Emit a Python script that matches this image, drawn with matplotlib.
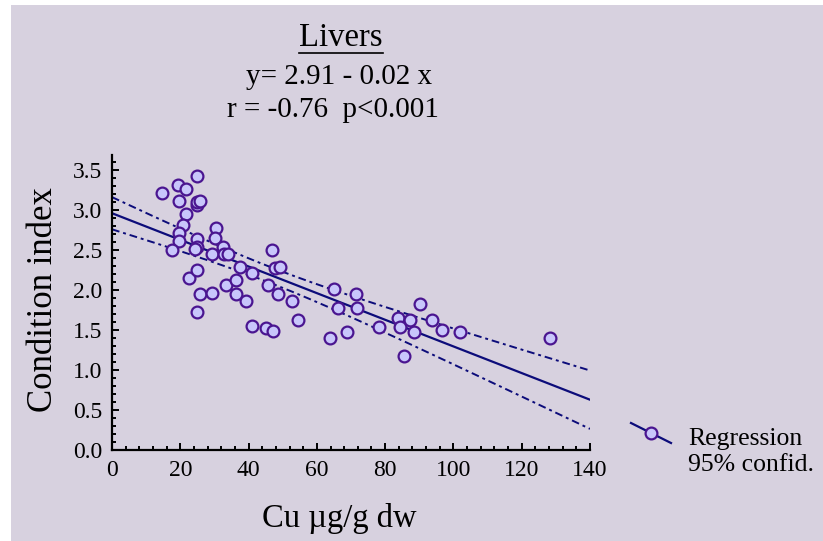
import numpy as np
import matplotlib
matplotlib.use('Agg')
import matplotlib.pyplot as plt
from matplotlib.lines import Line2D
from matplotlib.patches import Rectangle
from matplotlib.ticker import MultipleLocator, FormatStrFormatter

# Cu in livers (ug/g dw) against condition index
cu = [14.6, 19.2, 21.7, 25.0, 19.7, 24.8, 25.0, 25.8, 21.7, 20.9,
      19.7, 19.7, 17.5, 25.0, 24.8, 24.3, 30.4, 30.2, 32.4, 29.2,
      32.8, 34.1, 22.6, 25.0, 25.8, 29.2, 25.0, 33.3, 36.2, 36.2,
      39.2, 37.5, 40.9, 40.9, 45.0, 47.2, 45.6, 46.8, 47.7, 49.2,
      48.5, 52.6, 54.4, 63.9, 65.0, 66.1, 68.9, 71.5, 71.9, 78.3,
      83.7, 84.4, 87.3, 88.5, 90.2, 93.7, 96.6, 101.9, 85.5, 128.3]
cond = [3.22, 3.32, 3.27, 3.43, 3.12, 3.06, 3.10, 3.12, 2.95, 2.82,
        2.72, 2.62, 2.50, 2.64, 2.54, 2.51, 2.78, 2.65, 2.54, 2.45,
        2.45, 2.45, 2.15, 2.25, 1.95, 1.97, 1.72, 2.07, 2.13, 1.95,
        1.87, 2.29, 2.22, 1.55, 1.52, 1.49, 2.07, 2.50, 2.28, 2.29,
        1.95, 1.87, 1.62, 1.40, 2.02, 1.77, 1.47, 1.95, 1.77, 1.54,
        1.65, 1.54, 1.63, 1.47, 1.82, 1.63, 1.50, 1.47, 1.17, 1.40]

title = 'Livers'
eq_text = 'y= 2.91 - 0.02 x'
stat_text = 'r = -0.76  p<0.001'
xlab = 'Cu µg/g dw'
ylab = 'Condition index'
legend_labels = ['Regression', '95% confid.']

line_col = '#0c0c7a'
edge_col = '#4a1590'
face_col = '#c8c6fb'
bg_col = '#d7d1df'
W, H = 823, 541

plt.rcParams['font.family'] = ['Liberation Serif', 'DejaVu Serif']

fig = plt.figure(figsize=(W/100, H/100), dpi=100, facecolor='white')
fig.add_artist(Rectangle((11/W, 0), 1, 1 - 5/H, transform=fig.transFigure,
                         facecolor=bg_col, edgecolor='none', zorder=-10))

ax = fig.add_axes([112/W, 1 - 450/H, (590 - 112)/W, (450 - 155)/H])
ax.set_facecolor('none')

# straight-line fit and 95% band for the mean
x = np.array(cu)
y = np.array(cond)
n = len(x)
b, a = np.polyfit(x, y, 1)
xs = np.linspace(0, 140, 200)
fit = a + b*xs
resid = y - (a + b*x)
s = np.sqrt(np.sum(resid**2)/(n - 2))
sxx = np.sum((x - x.mean())**2)
half = 2.0*s*np.sqrt(1.0/n + (xs - x.mean())**2/sxx)

ax.plot(xs, fit, color=line_col, lw=1.6, zorder=2)
ax.plot(xs, fit + half, color=line_col, lw=1.4, ls=(0, (4, 2, 1.5, 2)), zorder=2)
ax.plot(xs, fit - half, color=line_col, lw=1.4, ls=(0, (4, 2, 1.5, 2)), zorder=2)
ax.plot(x, y, 'o', ms=8.5, mfc=face_col, mec=edge_col, mew=1.6, zorder=3)

ax.set_xlim(0, 140)
ax.set_ylim(0, 3.69)
ax.xaxis.set_major_locator(MultipleLocator(20))
ax.xaxis.set_minor_locator(MultipleLocator(4))
ax.yaxis.set_major_locator(MultipleLocator(0.5))
ax.yaxis.set_minor_locator(MultipleLocator(0.1))
ax.yaxis.set_major_formatter(FormatStrFormatter('%.1f'))
for sp in ['top', 'right']:
    ax.spines[sp].set_visible(False)
for sp in ['left', 'bottom']:
    ax.spines[sp].set_linewidth(1.6)
ax.tick_params(which='both', direction='in', width=1.4, labelsize=17)
ax.tick_params(which='major', length=5)
ax.tick_params(which='minor', length=3)
ax.tick_params(axis='x', pad=7)
ax.tick_params(axis='y', pad=7)

fig.text(339/W, 1 - 527/H, xlab, fontsize=23.5, ha='center', va='baseline')
fig.text(44/W, 1 - 300/H, ylab, fontsize=25, ha='center', va='center',
         rotation=90)

t = fig.text(341/W, 1 - 46/H, title, fontsize=23.5, ha='center', va='baseline')
fig.text(339/W, 1 - 84/H, eq_text, fontsize=21, ha='center', va='baseline')
fig.text(333/W, 1 - 117/H, stat_text, fontsize=21, ha='center', va='baseline')

# underline the title
fig.canvas.draw()
bb = t.get_window_extent()
fig.add_artist(Line2D([bb.x0/W, bb.x1/W], [1 - 53/H, 1 - 53/H],
                      transform=fig.transFigure, color='black', lw=1.2))

# legend glyph
fig.add_artist(Line2D([631/W, 671/W], [1 - 423/H, 1 - 443/H],
                      transform=fig.transFigure, color=line_col, lw=1.6))
fig.add_artist(Line2D([651/W], [1 - 433/H], transform=fig.transFigure,
                      marker='o', ms=8.5, mfc=face_col, mec=edge_col, mew=1.6))
fig.text(688/W, 1 - 445/H, legend_labels[0], fontsize=18.5, ha='left', va='baseline')
fig.text(688/W, 1 - 471/H, legend_labels[1], fontsize=18.5, ha='left', va='baseline')

fig.savefig('out.png', dpi=100, facecolor='white')
